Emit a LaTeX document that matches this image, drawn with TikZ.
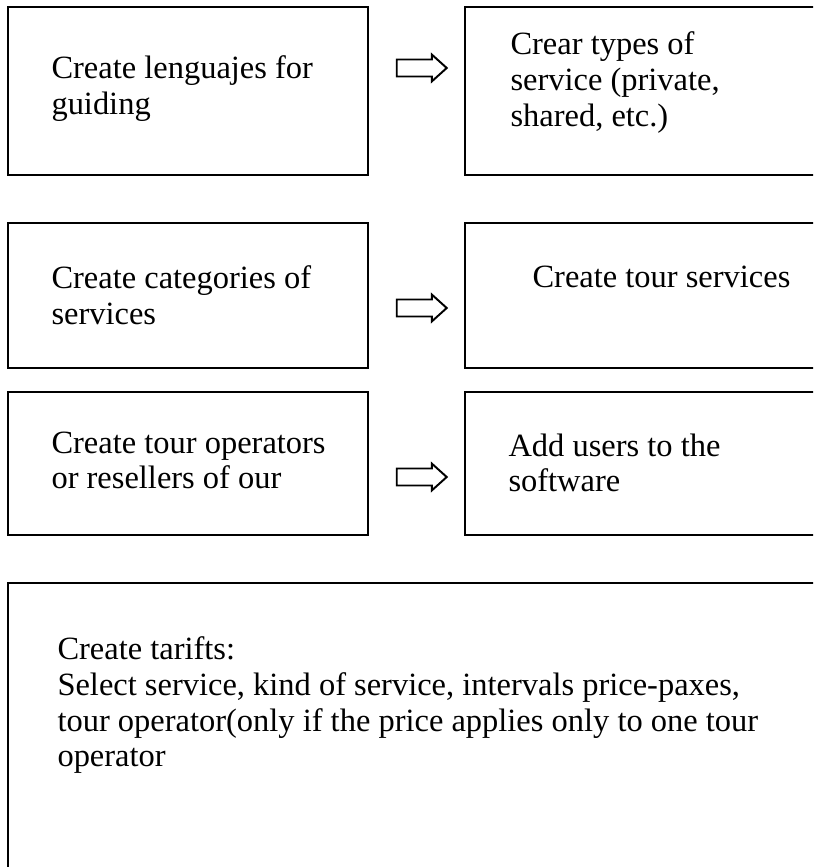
\documentclass[tikz,border=0pt]{standalone}
\usepackage{fontspec}
\setmainfont{Liberation Serif}
\usetikzlibrary{fit,shapes.arrows}
\tikzset{
  box/.style  = { draw, line width=1.1pt, inner sep=0pt },
  txt/.style  = { anchor=north west, inner sep=0pt, align=left, font=\fontsize{12.5}{13.8}\selectfont },
  goto/.style = { single arrow, draw, line width=0.75pt, inner xsep=0pt, inner ysep=2.9pt,
                  single arrow head extend=1.9pt, single arrow tip angle=84, minimum height=19.25pt }
}

\begin{document}
\begin{tikzpicture}[x=0.385pt,y=-0.385pt]
  \clip (0,0) rectangle (813,867);

  % Draw all boxes
  \node[box, fit={(8,7) (368,175)}]     (lang) {};
  \node[box, fit={(465,7) (840,175)}]   (types) {};
  \node[box, fit={(8,223) (368,368)}]   (categ) {};
  \node[box, fit={(465,223) (840,368)}] (tours) {};
  \node[box, fit={(8,392) (368,535)}]   (oper) {};
  \node[box, fit={(465,392) (840,535)}] (users) {};
  \node[box, fit={(8,583) (840,900)}]   (tarif) {};

  % Draw texts
  \node[txt] (langtxt)  at (51,55)   {Create lenguajes for\\guiding};
  \node[txt] (typestxt) at (510,31)  {Crear types of\\service (private,\\shared, etc.)};
  \node[txt] (categtxt) at (51,265)  {Create categories of\\services};
  \node[txt] (tourstxt) at (532,265) {Create tour services};
  \node[txt] (opertxt)  at (51,431)  {Create tour operators\\or resellers of our};
  \node[txt] (userstxt) at (508,433) {Add users to the\\software};
  \node[txt] (tariftxt) at (57,636)  {Create tarifts:\\Select service, kind of service, intervals price-paxes,\\tour operator(only if the price applies only to one tour\\operator};

  % Draw arrows
  \node[goto] (arr1) at (417,68)  {};
  \node[goto] (arr2) at (417,308) {};
  \node[goto] (arr3) at (417,477) {};
\end{tikzpicture}
\end{document}
